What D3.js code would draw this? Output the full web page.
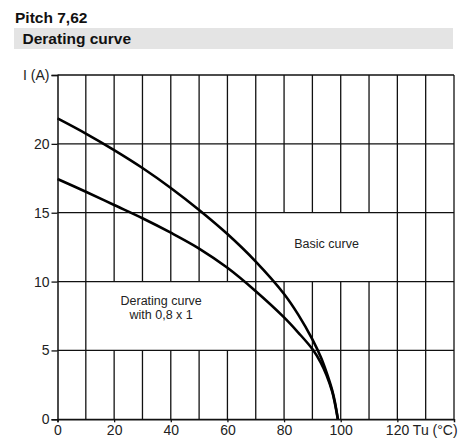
<!DOCTYPE html>
<html><head><meta charset="utf-8">
<script src="https://cdn.jsdelivr.net/npm/d3@7"></script>
<style>
body{margin:0;background:#fff;}
svg{display:block;font-family:"Liberation Sans",Arial,Helvetica,sans-serif;}
</style></head>
<body><svg id="c" width="464" height="439"></svg>
<script>
// ---- data ----
const temps      = [0, 10, 20, 30, 40, 50, 60, 70, 80, 85, 90, 93, 95, 97, 98, 99];
const basicCurve = [21.85, 20.75, 19.55, 18.25, 16.8, 15.2, 13.45, 11.45, 9.1, 7.6, 5.8, 4.5, 3.4, 2.1, 1.2, 0];
const deratingCurve = [17.45, 16.52, 15.56, 14.6, 13.55, 12.4, 11.0, 9.3, 7.4, 6.3, 5.1, 4.1, 3.2, 2.0, 1.1, 0];
const xTicks = [0, 20, 40, 60, 80, 100, 120];
const xTickLabels = ["0", "20", "40", "60", "80", "100", "120 Tu (°C)"];
const yTicks = [0, 5, 10, 15, 20, 25];
const yTickLabels = ["0", "5", "10", "15", "20", "I (A)"];
const xGrid = [10, 20, 30, 40, 50, 60, 70, 80, 90, 100, 110, 120, 130, 140];
// label boxes (data units) where grid lines are interrupted
const boxes = [
  {x0: 10, x1: 70, y0: 5, y1: 10, lines: ["Derating curve", "with 0,8 x 1"]},
  {x0: 70, x1: 120, y0: 10, y1: 15, lines: ["Basic curve"]}
];
const title = "Pitch 7,62";
const subtitle = "Derating curve";

// ---- drawing ----
const svg = d3.select("#c");
const x = d3.scaleLinear().domain([0, 140]).range([57.5, 454]);
const y = d3.scaleLinear().domain([0, 25]).range([419.3, 75]);

svg.append("text").attr("x", 15).attr("y", 23).attr("font-size", 15.5).attr("font-weight", "bold")
  .attr("fill", "#111").text(title);
svg.append("rect").attr("x", 14).attr("y", 28).attr("width", 439).attr("height", 21).attr("fill", "#e4e4e4");
svg.append("text").attr("x", 22.5).attr("y", 44).attr("font-size", 15.5).attr("font-weight", "bold")
  .attr("fill", "#111").text(subtitle);

const g = svg.append("g");
const stroke = "#111";

// horizontal grid
g.selectAll("line.h").data(yTicks).join("line")
  .attr("x1", x(0)).attr("x2", x(140)).attr("y1", d => y(d)).attr("y2", d => y(d))
  .attr("stroke", stroke).attr("stroke-width", 1.3);

// vertical grid, interrupted inside label boxes
function vSegments(v) {
  let segs = [[0, 25]];
  boxes.forEach(b => {
    if (v > b.x0 && v < b.x1) {
      const out = [];
      segs.forEach(([a, c]) => {
        if (b.y1 <= a || b.y0 >= c) { out.push([a, c]); return; }
        if (b.y0 > a) out.push([a, b.y0]);
        if (b.y1 < c) out.push([b.y1, c]);
      });
      segs = out;
    }
  });
  return segs.map(s => ({v, a: s[0], b: s[1]}));
}
const vsegs = xGrid.flatMap(vSegments);
g.selectAll("line.v").data(vsegs).join("line")
  .attr("x1", d => x(d.v)).attr("x2", d => x(d.v)).attr("y1", d => y(d.a)).attr("y2", d => y(d.b))
  .attr("stroke", stroke).attr("stroke-width", 1.3);

// axes
const yAxis = d3.axisLeft(y).tickValues(yTicks).tickFormat((d, i) => yTickLabels[i]).tickSize(6).tickPadding(2);
const ya = svg.append("g").attr("transform", `translate(${x(0)},0)`).call(yAxis);
const xAxis = d3.axisBottom(x).tickValues(xTicks).tickFormat((d, i) => xTickLabels[i]).tickSize(3).tickPadding(3);
const xa = svg.append("g").attr("transform", `translate(0,${y(0)})`).call(xAxis);
[ya, xa].forEach(a => {
  a.select(".domain").attr("stroke", stroke).attr("stroke-width", 1.5);
  a.selectAll(".tick line").attr("stroke", stroke).attr("stroke-width", 1.3);
  a.selectAll(".tick text").attr("font-size", 14).attr("fill", "#222")
    .attr("font-family", "'Liberation Sans',Arial,sans-serif");
});
xa.selectAll(".tick text").filter((d, i) => i === xTickLabels.length - 1)
  .attr("text-anchor", "start").attr("dx", -12);

// curves
const line = d3.line().x(d => x(d[0])).y(d => y(d[1])).curve(d3.curveCatmullRom.alpha(0.5));
[basicCurve, deratingCurve].forEach(s => {
  g.append("path").datum(temps.map((t, i) => [t, s[i]]))
    .attr("d", line).attr("fill", "none").attr("stroke", "#000").attr("stroke-width", 2.6);
});

// box labels
const labelPos = [{cx: 36.6, cy: 8.1}, {cx: 95, cy: 12.8}];
boxes.forEach((b, i) => {
  const t = svg.append("text").attr("font-size", 12.5).attr("fill", "#222").attr("text-anchor", "middle");
  const n = b.lines.length;
  b.lines.forEach((l, j) => {
    t.append("tspan").attr("x", x(labelPos[i].cx))
      .attr("y", y(labelPos[i].cy) + 4.5 + (j - (n - 1) / 2) * 14).text(l);
  });
});
</script></body></html>
